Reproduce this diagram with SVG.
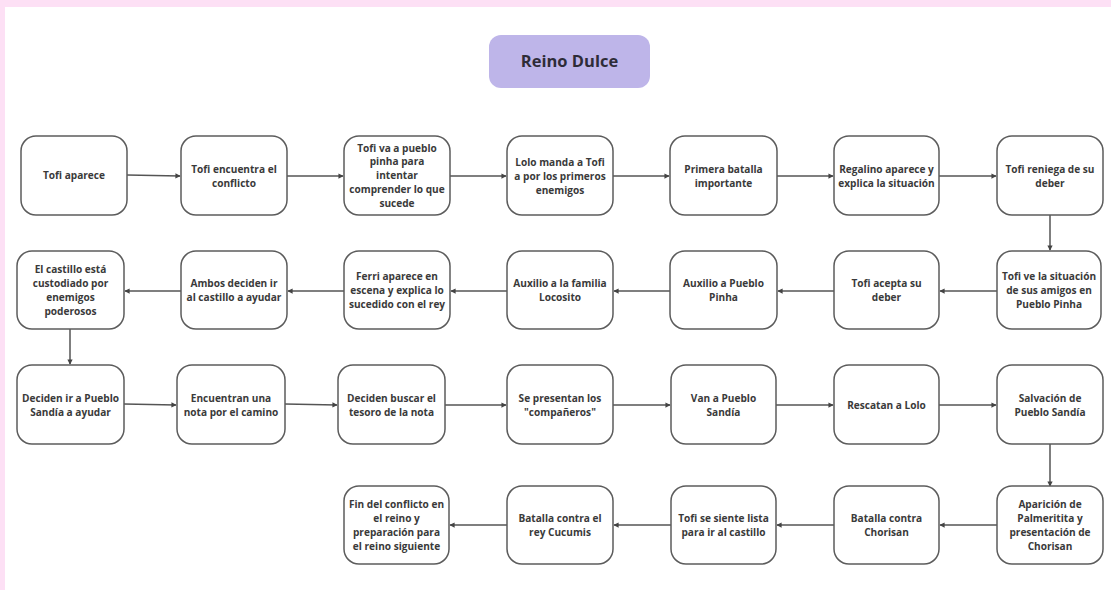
<svg xmlns="http://www.w3.org/2000/svg" width="1111" height="590" viewBox="0 0 1111 590">
<defs>
<style>
.bg{fill:#ffffff}
.band{fill:#fde0f5}
.box{fill:#ffffff;stroke:#5c5c5c;stroke-width:1.5}
.t{font-family:"Open Sans","Liberation Sans",sans-serif;font-weight:700;font-size:10.1px;fill:#3a3a3a;text-anchor:middle}
.title{font-family:"Open Sans","Liberation Sans",sans-serif;font-weight:700;font-size:16.5px;fill:#2e2c38;text-anchor:middle}
.c{fill:none;stroke:#555555;stroke-width:1.5;marker-end:url(#ah)}
</style>
<marker id="ah" viewBox="0 0 8 8" refX="7" refY="4" markerWidth="3.5" markerHeight="3.5" orient="auto" markerUnits="strokeWidth">
<path d="M0,0 L8,4 L0,8 z" fill="#444444"/>
</marker>
</defs>
<rect class="bg" x="0" y="0" width="1111" height="590"/>
<rect class="band" x="0" y="0" width="1111" height="7"/>
<rect class="band" x="0" y="0" width="5" height="590"/>

<g id="title">
<rect x="489" y="35" width="161" height="53" rx="12" fill="#beb5e9"/>
<text class="title" x="569.5" y="67">Reino Dulce</text>
</g>

<g id="connectors">
<path class="c" d="M127,175 L180,176"/>
<path class="c" d="M287,176 L343,176"/>
<path class="c" d="M450,176 L506,176"/>
<path class="c" d="M613,176 L669,176"/>
<path class="c" d="M777,176 L833,176"/>
<path class="c" d="M939,176 L996,176"/>
<path class="c" d="M1050,215 L1050,250"/>
<path class="c" d="M997,291 L940,291"/>
<path class="c" d="M834,291 L778,291"/>
<path class="c" d="M670,291 L614,291"/>
<path class="c" d="M507,291 L451,291"/>
<path class="c" d="M344,291 L288,291"/>
<path class="c" d="M181,291 L125,291"/>
<path class="c" d="M70,329 L70,364"/>
<path class="c" d="M124,404 L176,405"/>
<path class="c" d="M285,404 L337,405"/>
<path class="c" d="M445,405 L506,405"/>
<path class="c" d="M613,405 L670,405"/>
<path class="c" d="M776,405 L833,405"/>
<path class="c" d="M939,405 L996,405"/>
<path class="c" d="M1050,444 L1050,486"/>
<path class="c" d="M997,525 L940,525"/>
<path class="c" d="M834,525 L777,525"/>
<path class="c" d="M671,525 L614,525"/>
<path class="c" d="M507,525 L450,525"/>
</g>

<g id="n1"><rect class="box" x="21" y="136" width="106" height="79" rx="15"/>
<text class="t" x="74" y="179">Tofi aparece</text></g>
<g id="n2"><rect class="box" x="181" y="136" width="106" height="79" rx="15"/>
<text class="t" x="234" y="172.5"><tspan x="234">Tofi encuentra el</tspan><tspan x="234" dy="14">conflicto</tspan></text></g>
<g id="n3"><rect class="box" x="344" y="136" width="106" height="79" rx="15"/>
<text class="t" x="397" y="151.5"><tspan x="397">Tofi va a pueblo</tspan><tspan x="397" dy="13.8">pinha para</tspan><tspan x="397" dy="13.8">intentar</tspan><tspan x="397" dy="13.8">comprender lo que</tspan><tspan x="397" dy="13.8">sucede</tspan></text></g>
<g id="n4"><rect class="box" x="507" y="136" width="106" height="79" rx="15"/>
<text class="t" x="560" y="165.5"><tspan x="560">Lolo manda a Tofi</tspan><tspan x="560" dy="14">a por los primeros</tspan><tspan x="560" dy="14">enemigos</tspan></text></g>
<g id="n5"><rect class="box" x="670" y="136" width="107" height="79" rx="15"/>
<text class="t" x="723.5" y="172.5"><tspan x="723.5">Primera batalla</tspan><tspan x="723.5" dy="14">importante</tspan></text></g>
<g id="n6"><rect class="box" x="834" y="136" width="105" height="79" rx="15"/>
<text class="t" x="886.5" y="172.5"><tspan x="886.5">Regalino aparece y</tspan><tspan x="886.5" dy="14">explica la situación</tspan></text></g>
<g id="n7"><rect class="box" x="997" y="136" width="106" height="79" rx="15"/>
<text class="t" x="1050" y="172.5"><tspan x="1050">Tofi reniega de su</tspan><tspan x="1050" dy="14">deber</tspan></text></g>

<g id="n8"><rect class="box" x="997" y="251" width="104" height="78" rx="15"/>
<text class="t" x="1049" y="280"><tspan x="1049">Tofi ve la situación</tspan><tspan x="1049" dy="14">de sus amigos en</tspan><tspan x="1049" dy="14">Pueblo Pinha</tspan></text></g>
<g id="n9"><rect class="box" x="834" y="251" width="105" height="78" rx="15"/>
<text class="t" x="886.5" y="287"><tspan x="886.5">Tofi acepta su</tspan><tspan x="886.5" dy="14">deber</tspan></text></g>
<g id="n10"><rect class="box" x="670" y="251" width="107" height="78" rx="15"/>
<text class="t" x="723.5" y="287"><tspan x="723.5">Auxilio a Pueblo</tspan><tspan x="723.5" dy="14">Pinha</tspan></text></g>
<g id="n11"><rect class="box" x="507" y="251" width="106" height="78" rx="15"/>
<text class="t" x="560" y="287"><tspan x="560">Auxilio a la familia</tspan><tspan x="560" dy="14">Locosito</tspan></text></g>
<g id="n12"><rect class="box" x="344" y="251" width="106" height="78" rx="15"/>
<text class="t" x="397" y="280"><tspan x="397">Ferri aparece en</tspan><tspan x="397" dy="14">escena y explica lo</tspan><tspan x="397" dy="14">sucedido con el rey</tspan></text></g>
<g id="n13"><rect class="box" x="181" y="251" width="106" height="78" rx="15"/>
<text class="t" x="234" y="287"><tspan x="234">Ambos deciden ir</tspan><tspan x="234" dy="14">al castillo a ayudar</tspan></text></g>
<g id="n14"><rect class="box" x="17" y="251" width="107" height="78" rx="15"/>
<text class="t" x="70.5" y="273"><tspan x="70.5">El castillo está</tspan><tspan x="70.5" dy="14">custodiado por</tspan><tspan x="70.5" dy="14">enemigos</tspan><tspan x="70.5" dy="14">poderosos</tspan></text></g>

<g id="n15"><rect class="box" x="17" y="365" width="107" height="79" rx="15"/>
<text class="t" x="70.5" y="401.5"><tspan x="70.5">Deciden ir a Pueblo</tspan><tspan x="70.5" dy="14">Sandía a ayudar</tspan></text></g>
<g id="n16"><rect class="box" x="177" y="365" width="108" height="79" rx="15"/>
<text class="t" x="231" y="401.5"><tspan x="231">Encuentran una</tspan><tspan x="231" dy="14">nota por el camino</tspan></text></g>
<g id="n17"><rect class="box" x="338" y="365" width="107" height="79" rx="15"/>
<text class="t" x="391.5" y="401.5"><tspan x="391.5">Deciden buscar el</tspan><tspan x="391.5" dy="14">tesoro de la nota</tspan></text></g>
<g id="n18"><rect class="box" x="507" y="365" width="106" height="79" rx="15"/>
<text class="t" x="560" y="401.5"><tspan x="560">Se presentan los</tspan><tspan x="560" dy="14">"compañeros"</tspan></text></g>
<g id="n19"><rect class="box" x="671" y="365" width="105" height="79" rx="15"/>
<text class="t" x="723.5" y="401.5"><tspan x="723.5">Van a Pueblo</tspan><tspan x="723.5" dy="14">Sandía</tspan></text></g>
<g id="n20"><rect class="box" x="834" y="365" width="105" height="79" rx="15"/>
<text class="t" x="886.5" y="408.5">Rescatan a Lolo</text></g>
<g id="n21"><rect class="box" x="997" y="365" width="106" height="79" rx="15"/>
<text class="t" x="1050" y="401.5"><tspan x="1050">Salvación de</tspan><tspan x="1050" dy="14">Pueblo Sandía</tspan></text></g>

<g id="n22"><rect class="box" x="997" y="486" width="106" height="78" rx="15"/>
<text class="t" x="1050" y="508"><tspan x="1050">Aparición de</tspan><tspan x="1050" dy="14">Palmeritita y</tspan><tspan x="1050" dy="14">presentación de</tspan><tspan x="1050" dy="14">Chorisan</tspan></text></g>
<g id="n23"><rect class="box" x="834" y="486" width="105" height="78" rx="15"/>
<text class="t" x="886.5" y="522"><tspan x="886.5">Batalla contra</tspan><tspan x="886.5" dy="14">Chorisan</tspan></text></g>
<g id="n24"><rect class="box" x="671" y="486" width="105" height="78" rx="15"/>
<text class="t" x="723.5" y="522"><tspan x="723.5">Tofi se siente lista</tspan><tspan x="723.5" dy="14">para ir al castillo</tspan></text></g>
<g id="n25"><rect class="box" x="507" y="486" width="106" height="78" rx="15"/>
<text class="t" x="560" y="522"><tspan x="560">Batalla contra el</tspan><tspan x="560" dy="14">rey Cucumis</tspan></text></g>
<g id="n26"><rect class="box" x="344" y="486" width="105" height="78" rx="15"/>
<text class="t" x="396.5" y="508"><tspan x="396.5">Fin del conflicto en</tspan><tspan x="396.5" dy="14">el reino y</tspan><tspan x="396.5" dy="14">preparación para</tspan><tspan x="396.5" dy="14">el reino siguiente</tspan></text></g>
</svg>
